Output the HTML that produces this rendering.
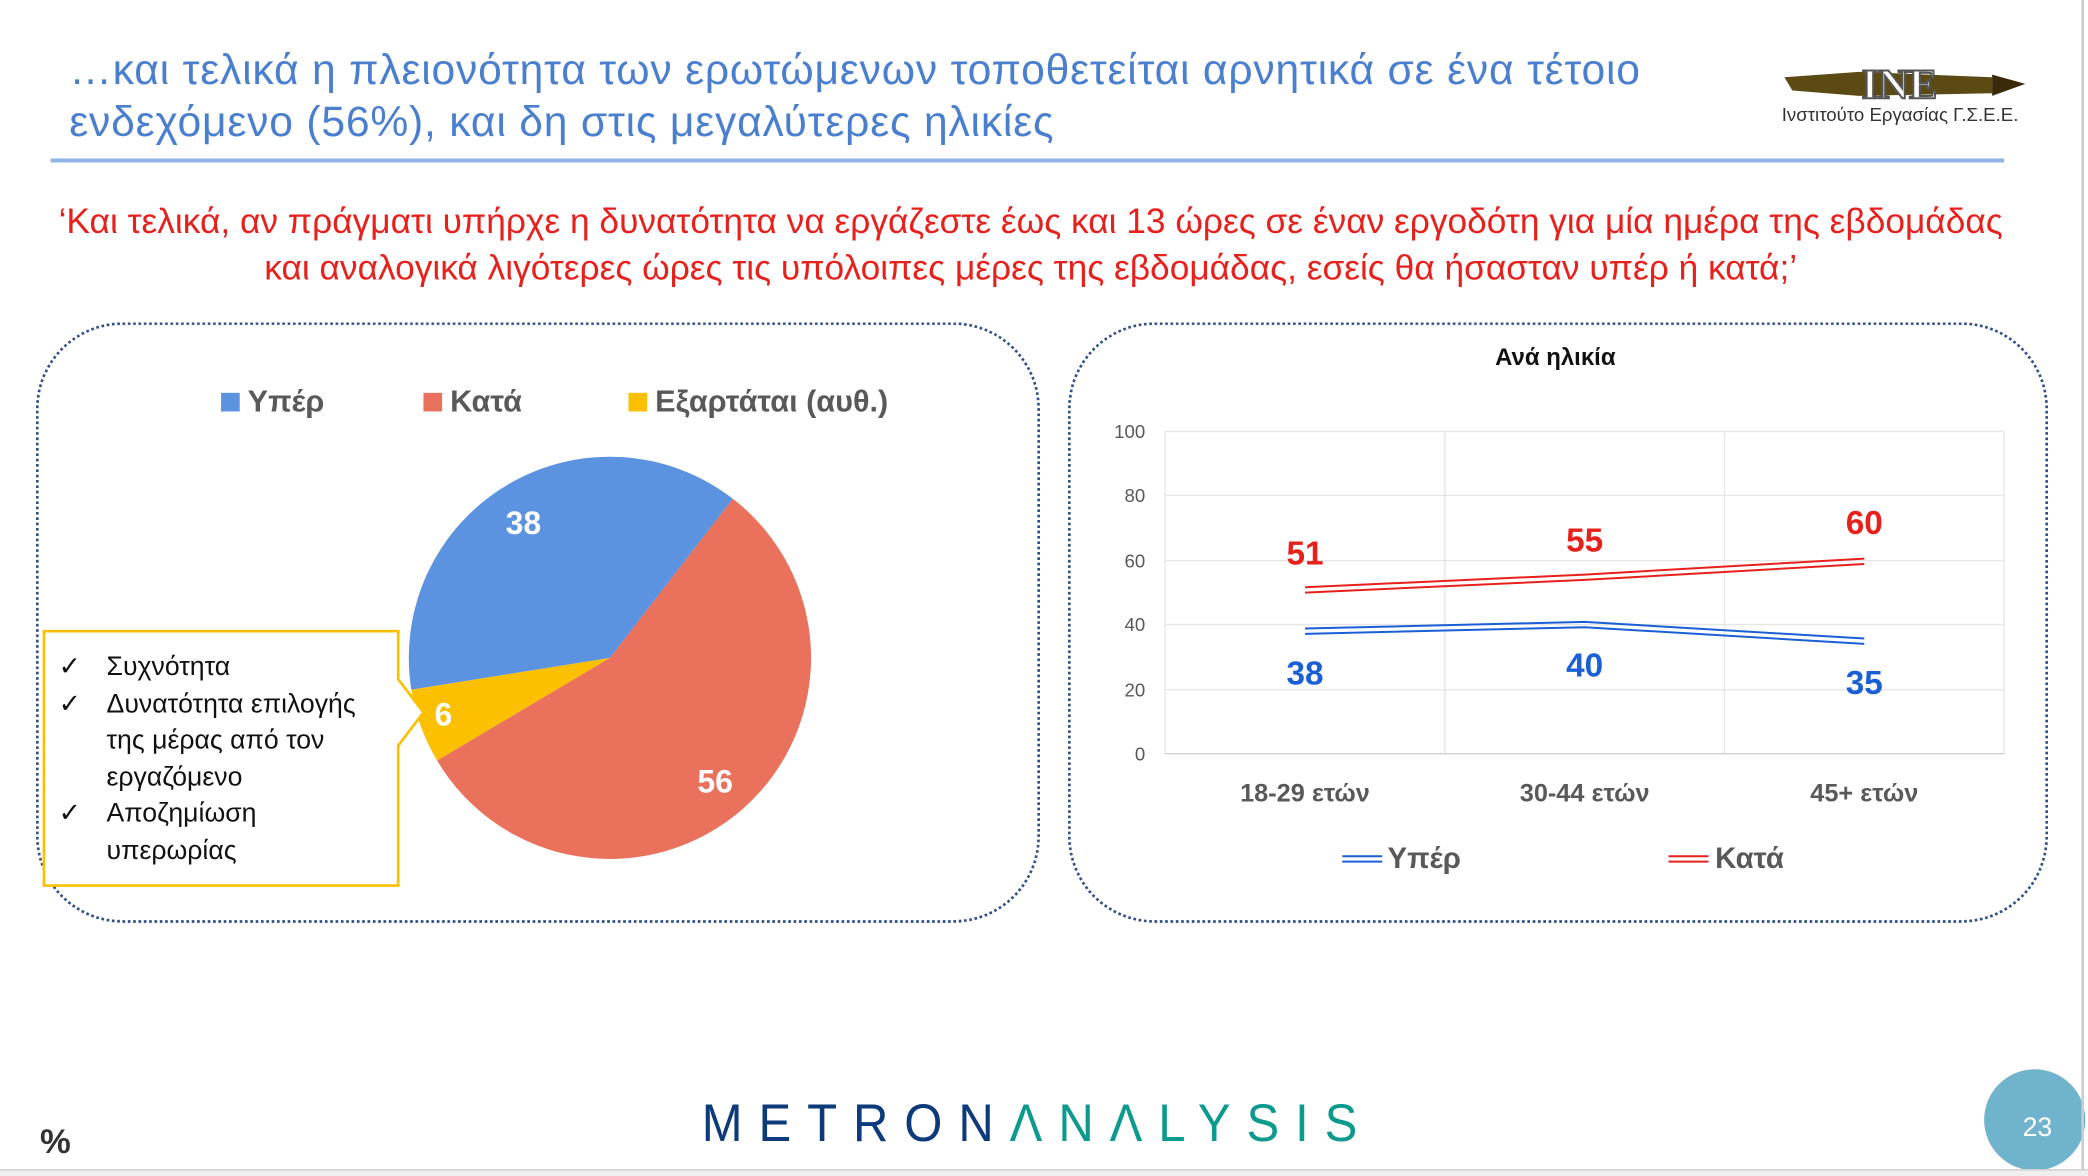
<!DOCTYPE html>
<html><head><meta charset="utf-8"><style>
html,body{margin:0;padding:0;background:#fff;}
#root{width:1568px;height:883px;position:relative;transform:scale(1.33163);transform-origin:0 0;overflow:hidden;font-family:"Liberation Sans","DejaVu Sans",sans-serif;}
.a{position:absolute;white-space:nowrap;}
</style></head><body><div id="root">
<div class="a" style="left:52px;top:33px;font-size:32px;line-height:39px;color:#4a7fd0;letter-spacing:0.6px;">…και τελικά η πλειονότητα των ερωτώμενων τοποθετείται αρνητικά σε ένα τέτοιο<br>ενδεχόμενο (56%), και δη στις μεγαλύτερες ηλικίες</div>
<div class="a" style="left:38px;top:119px;width:1467px;height:3px;background:#8fb4e8;"></div>
<svg class="a" style="left:1336px;top:44px" width="192" height="52">
<path d="M4 14 L60 10 L160 14 L160 26 L60 28 L10 24 Z" fill="#5c4a14"/>
<path d="M160 12 L185 19 L160 28 Z" fill="#3a2a0a"/>
<text x="62" y="30" font-family="Liberation Serif" font-weight="bold" font-size="32" fill="#fff" stroke="#555" stroke-width="1.5">INE</text>
<text x="2" y="47" font-size="14" fill="#333">Ινστιτούτο Εργασίας Γ.Σ.Ε.Ε.</text>
</svg>
<div class="a" style="left:0;width:1548px;top:149px;font-size:26.5px;line-height:35px;color:#e8201c;text-align:center;">‘Και τελικά, αν πράγματι υπήρχε η δυνατότητα να εργάζεστε έως και 13 ώρες σε έναν εργοδότη για μία ημέρα της εβδομάδας<br>και αναλογικά λιγότερες ώρες τις υπόλοιπες μέρες της εβδομάδας, εσείς θα ήσασταν υπέρ ή κατά;’</div>
<div class="a" style="left:27px;top:242px;width:750px;height:447px;border:2px dotted #2f4f8a;border-radius:65px;"></div>
<div class="a" style="left:802px;top:242px;width:732px;height:447px;border:2px dotted #2f4f8a;border-radius:65px;"></div>
<div class="a" style="left:166px;top:288px;font-size:23px;font-weight:bold;color:#595959;"><span style="display:inline-block;width:14px;height:14px;background:#5b93e0;margin-right:6px"></span>Υπέρ</div>
<div class="a" style="left:318px;top:288px;font-size:23px;font-weight:bold;color:#595959;"><span style="display:inline-block;width:14px;height:14px;background:#ea725d;margin-right:6px"></span>Κατά</div>
<div class="a" style="left:472px;top:288px;font-size:23px;font-weight:bold;color:#595959;"><span style="display:inline-block;width:14px;height:14px;background:#fcc000;margin-right:6px"></span>Εξαρτάται (αυθ.)</div>
<svg class="a" style="left:0;top:0" width="1568" height="883">
<path d="M458 494 L550.3 374.5 A151 151 0 1 1 328.2 571.1 Z" fill="#ea725d"/>
<path d="M458 494 L328.2 571.1 A151 151 0 0 1 308.9 517.9 Z" fill="#fcc000"/>
<path d="M458 494 L308.9 517.9 A151 151 0 0 1 550.3 374.5 Z" fill="#5b93e0"/>
<g font-weight="bold" font-size="24" fill="#fff" text-anchor="middle">
<text x="393" y="401">38</text><text x="537" y="595">56</text><text x="333" y="545">6</text></g>
<path d="M33 474 H299 V510 L318 535 L299 560 V665 H33 Z" fill="#fff" stroke="#fcc000" stroke-width="2"/>
<text x="1168" y="274" font-weight="bold" font-size="18" text-anchor="middle" fill="#111">Ανά ηλικία</text>
<g stroke="#e6e6e6" stroke-width="1">
<line x1="875" y1="324" x2="1505" y2="324"/><line x1="875" y1="372" x2="1505" y2="372"/><line x1="875" y1="421" x2="1505" y2="421"/><line x1="875" y1="469" x2="1505" y2="469"/><line x1="875" y1="518" x2="1505" y2="518"/>
<line x1="875" y1="324" x2="875" y2="566"/><line x1="1085" y1="324" x2="1085" y2="566"/><line x1="1295" y1="324" x2="1295" y2="566"/><line x1="1505" y1="324" x2="1505" y2="566"/></g>
<line x1="875" y1="566" x2="1505" y2="566" stroke="#d0d0d0"/>
<g font-size="14" fill="#595959" text-anchor="end">
<text x="860" y="329">100</text><text x="860" y="377">80</text><text x="860" y="426">60</text><text x="860" y="474">40</text><text x="860" y="523">20</text><text x="860" y="571">0</text></g>
<g font-size="19" font-weight="bold" fill="#595959" text-anchor="middle">
<text x="980" y="602">18-29 ετών</text><text x="1190" y="602">30-44 ετών</text><text x="1400" y="602">45+ ετών</text></g>
<g fill="none" stroke-width="1.5">
<polyline points="980,441 1190,431.5 1400,419.5" stroke="#e8201c"/><polyline points="980,445 1190,435.5 1400,423.5" stroke="#e8201c"/>
<polyline points="980,472 1190,467 1400,479.5" stroke="#1a5fd6"/><polyline points="980,476 1190,471 1400,483.5" stroke="#1a5fd6"/>
<line x1="1008" y1="643" x2="1038" y2="643" stroke="#1a5fd6"/><line x1="1008" y1="647" x2="1038" y2="647" stroke="#1a5fd6"/>
<line x1="1253" y1="643" x2="1283" y2="643" stroke="#e8201c"/><line x1="1253" y1="647" x2="1283" y2="647" stroke="#e8201c"/></g>
<g font-size="25" font-weight="bold" text-anchor="middle">
<text x="980" y="424" fill="#e8201c">51</text><text x="1190" y="414" fill="#e8201c">55</text><text x="1400" y="401" fill="#e8201c">60</text>
<text x="980" y="514" fill="#1a5fd6">38</text><text x="1190" y="508" fill="#1a5fd6">40</text><text x="1400" y="521" fill="#1a5fd6">35</text></g>
<g font-size="22" font-weight="bold" fill="#595959"><text x="1042" y="652">Υπέρ</text><text x="1288" y="652">Κατά</text></g>
<circle cx="1528" cy="841" r="38" fill="#6fb3cc"/>
<text x="1530" y="853" font-size="20" fill="#fff" text-anchor="middle">23</text>
<text x="30" y="866" font-size="26" font-weight="bold" fill="#333">%</text>
</svg>
<div class="a" style="left:527px;top:822px;font-size:40px;letter-spacing:13px;color:#0d3a7a;transform:scaleX(0.92);transform-origin:0 0;">METRON<span style="color:#0c9a8f">ΛNΛLYSIS</span></div>
<div class="a" style="left:1563px;top:0;width:2px;height:883px;background:#ccc;"></div>
<div class="a" style="left:0;top:878px;width:1568px;height:5px;background:#eee;border-top:1px solid #ccc;"></div>
<div class="a" style="left:44px;top:488px;font-size:20px;line-height:27.5px;color:#111;">
<div>✓<span style="position:absolute;left:36px">Συχνότητα</span></div>
<div>✓<span style="position:absolute;left:36px">Δυνατότητα επιλογής</span></div>
<div style="padding-left:36px">της μέρας από τον</div>
<div style="padding-left:36px">εργαζόμενο</div>
<div>✓<span style="position:absolute;left:36px">Αποζημίωση</span></div>
<div style="padding-left:36px">υπερωρίας</div></div>
</div></body></html>
